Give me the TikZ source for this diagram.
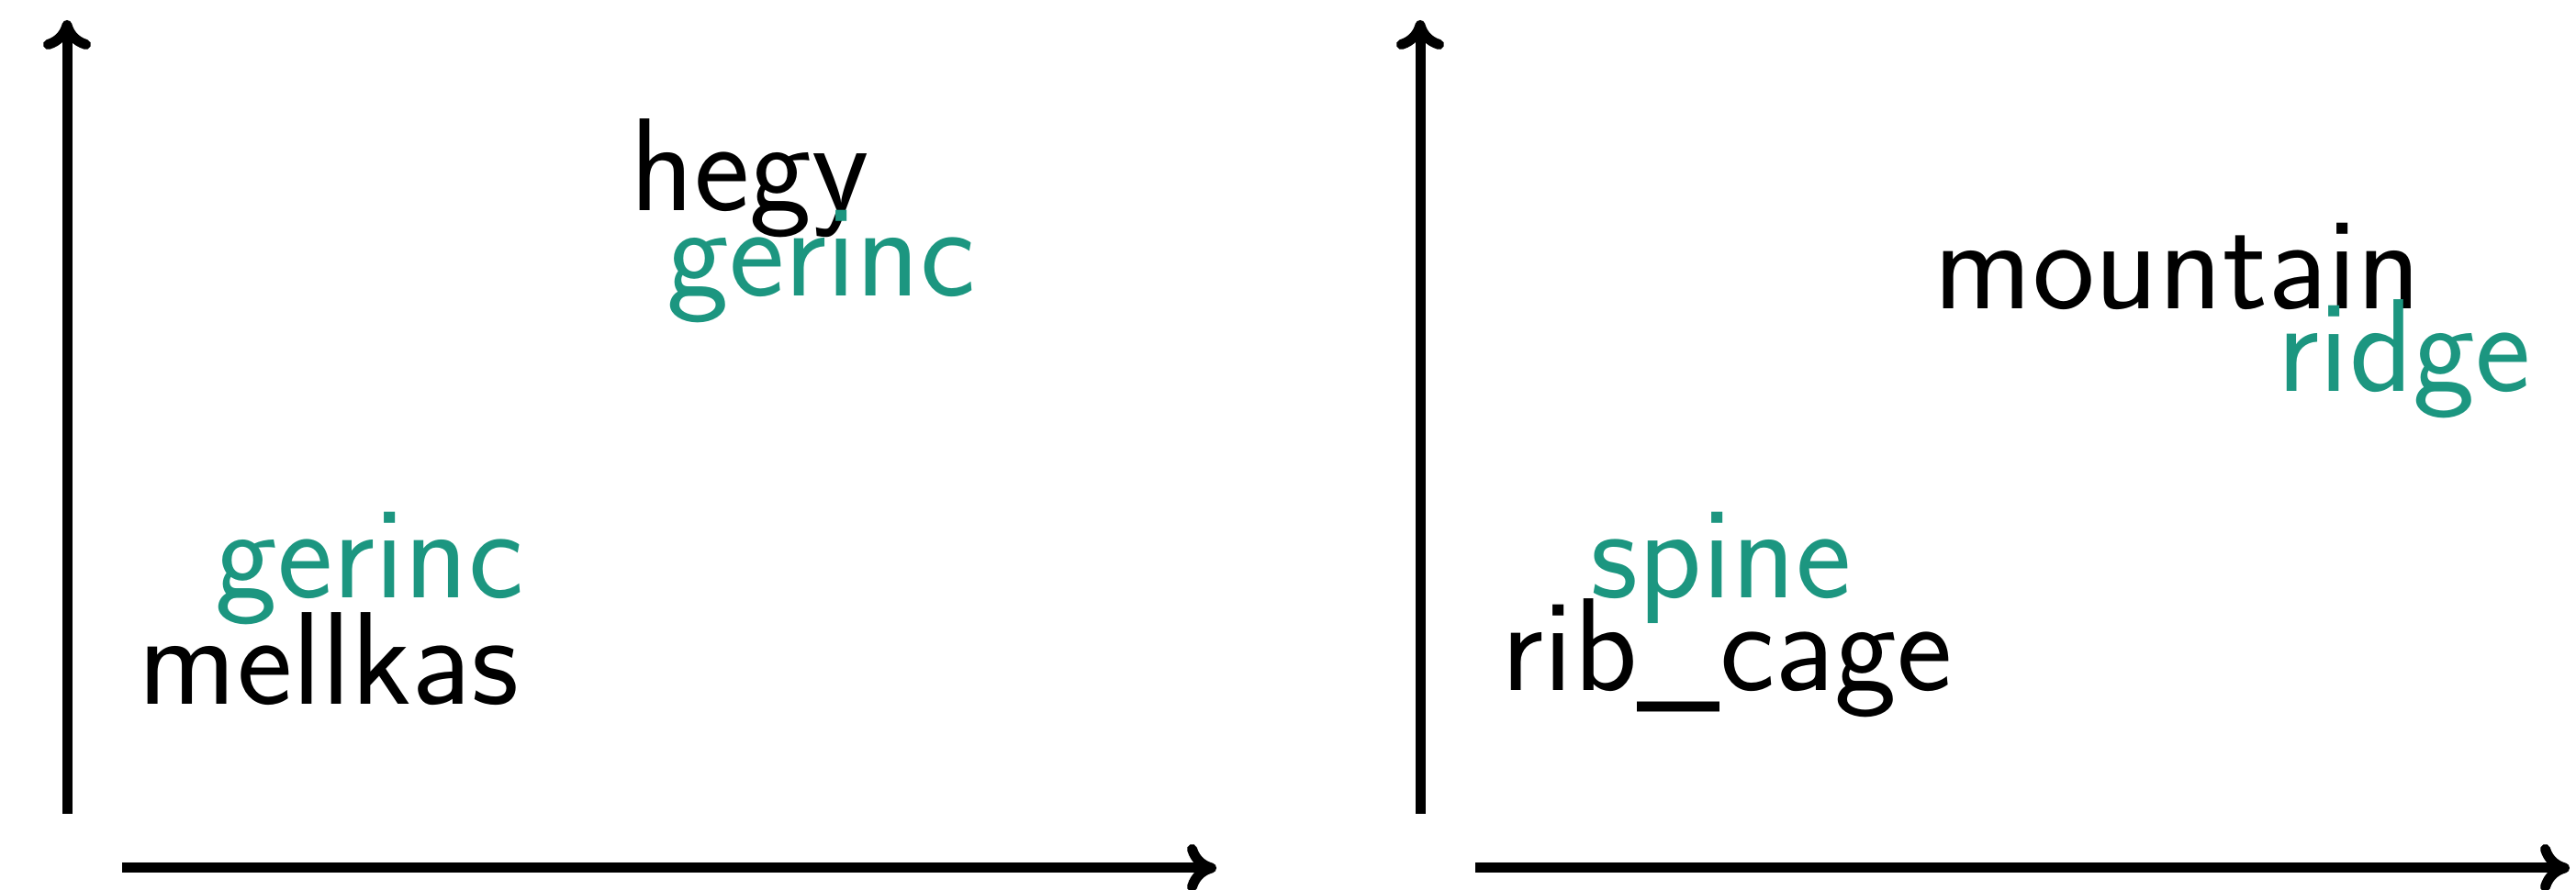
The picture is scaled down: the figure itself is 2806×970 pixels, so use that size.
\documentclass[tikz,border=0pt]{standalone}
\usetikzlibrary{arrows.meta}
\definecolor{wordgreen}{RGB}{28,150,128}
\begin{document}
\begin{tikzpicture}[x=0.25pt,y=-0.25pt,
  axis/.style={line width=2.75pt,-{Computer Modern Rightarrow[length=8pt,width=13pt,line width=2.75pt]}},
  word/.style={anchor=base west,inner sep=0pt,font=\sffamily\fontsize{36}{43}\selectfont},
  src/.style={word,text=black},
  tgt/.style={word,text=wordgreen}]
\useasboundingbox (0,0) rectangle (2806,970);
% left panel axes
\coordinate (ly0) at (73,887);
\coordinate (ly1) at (73,22);
\coordinate (lx0) at (133,946);
\coordinate (lx1) at (1325,946);
\draw[axis] (ly0) -- (ly1);
\draw[axis] (lx0) -- (lx1);
% right panel axes
\coordinate (ry0) at (1547,887);
\coordinate (ry1) at (1547,22);
\coordinate (rx0) at (1607,946);
\coordinate (rx1) at (2799,946);
\draw[axis] (ry0) -- (ry1);
\draw[axis] (rx0) -- (rx1);
% left panel words
\node[src] (hegy) at (686,230) {hegy};
\node[tgt] (gerincA) at (726,323) {gerinc};
\node[tgt] (gerincB) at (234,652) {gerinc};
\node[src] (mellkas) at (150,768) {mellkas};
% right panel words
\node[src] (mountain) at (2106,337) {mountain};
\node[tgt] (ridge) at (2480,427) {ridge};
\node[tgt] (spine) at (1732,652) {spine};
\node[src] (ribcage) at (1635,753) {rib\_cage};
\end{tikzpicture}
\end{document}
